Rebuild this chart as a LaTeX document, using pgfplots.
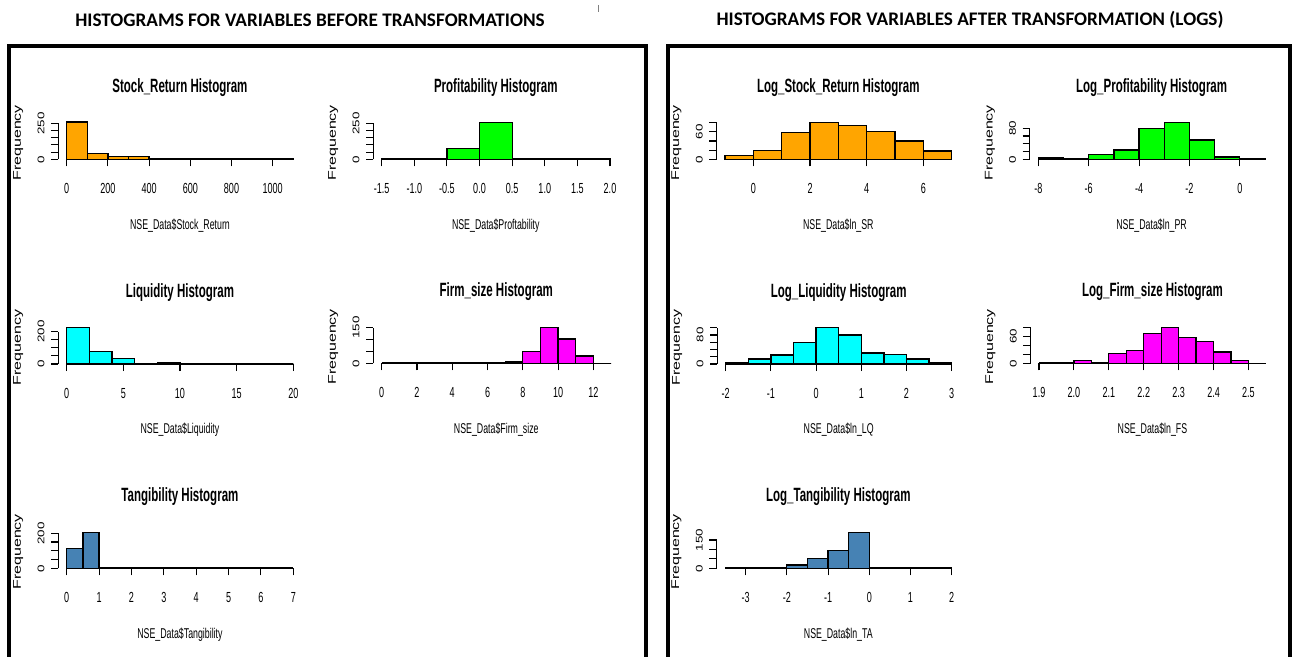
\documentclass[border=0pt]{standalone}
\usepackage{pgfplots}
\pgfplotsset{compat=1.18}
\usepackage{fontspec}
\setmainfont{Liberation Sans}
\newfontfamily\hdr{Carlito}
\newfontfamily\nar{Liberation Sans}[FakeStretch=0.62]
\newfontfamily\narT{Liberation Sans}[FakeStretch=0.6]
\definecolor{rorange}{RGB}{255,165,0}
\definecolor{rgreen}{RGB}{0,255,0}
\definecolor{rcyan}{RGB}{0,255,255}
\definecolor{rmagenta}{RGB}{255,0,255}
\definecolor{rsteel}{RGB}{70,130,180}
\pgfplotsset{
 rh/.style={
  scale only axis, clip=false, anchor=south west,
  axis x line*=bottom, axis y line*=left,
  x axis line style={draw=none},
  y axis line style={-, line width=0.55pt, black},
  tick align=outside, major tick length=3.6pt,
  tick style={black, line width=0.55pt},
  ymin=0,
  xticklabel style={font=\nar\fontsize{7.3}{8}\selectfont, anchor=center, yshift=-11pt},
  yticklabel style={font=\fontsize{6.7}{7}\selectfont, xshift=-5pt, xscale=0.72, rotate=90, anchor=center},
  every axis title/.style={at={(0.5,0)}, anchor=center, xshift=2.1pt, yshift=35.8pt, font=\narT\bfseries\fontsize{9.6}{11}\selectfont},
  every axis x label/.style={at={(0.5,0)}, anchor=center, xshift=2.1pt, yshift=-33pt, font=\nar\fontsize{7.1}{8}\selectfont},
  every axis y label/.style={at={(0,0)}, anchor=center, xshift=-20pt, yshift=8.25pt, xscale=0.7, rotate=90, font=\fontsize{8}{9}\selectfont},
  ylabel={Frequency},
 },
 hb/.style={ybar interval, fill=#1, draw=black, line width=0.65pt},
 base/.style={black, line width=1.1pt, no marks},
}
\begin{document}
\begin{tikzpicture}
\path[use as bounding box] (0,0) rectangle (650pt,328.5pt);
% panel frames
\draw[line width=1.6pt] (4.5pt,-2pt) -- (4.5pt,305.5pt) -- (323pt,305.5pt) -- (323pt,-2pt);
\draw[line width=1.6pt] (334pt,-2pt) -- (334pt,305.5pt) -- (645pt,305.5pt) -- (645pt,-2pt);
\draw[line width=0.5pt, gray] (299pt,326pt) -- (299pt,322.5pt);
\node[font=\hdr\bfseries\fontsize{9.6}{11}\selectfont] at (155pt,318.5pt) {HISTOGRAMS FOR VARIABLES BEFORE TRANSFORMATIONS};
\node[font=\hdr\bfseries\fontsize{9.6}{11}\selectfont] at (485pt,318.5pt) {HISTOGRAMS FOR VARIABLES AFTER TRANSFORMATION (LOGS)};

% A Stock_Return
\begin{axis}[rh, at={(29.1pt,248.85pt)}, width=117.55pt, height=18pt,
  xmin=-41.3, xmax=1100, ymax=250,
  xtick={0,200,400,600,800,1000}, xticklabels={0,200,400,600,800,1000},
  ytick={0,50,100,150,200,250}, yticklabels={0,,,,,250},
  title={Stock\_Return Histogram}, xlabel={NSE\_Data\$Stock\_Return}]
\addplot[base] coordinates {(0,0) (1100,0)};
\addplot[hb=rorange] coordinates {(0,258) (100,42) (200,18) (300,20) (400,4) (500,3) (600,0) (700,3) (800,2) (900,3) (1000,2) (1100,0)};
\end{axis}

% B Profitability
\begin{axis}[rh, at={(186.6pt,248.85pt)}, width=118.4pt, height=18pt,
  xmin=-1.63, xmax=2.0, ymax=250,
  xtick={-1.5,-1,-0.5,0,0.5,1,1.5,2}, xticklabels={-1.5,-1.0,-0.5,0.0,0.5,1.0,1.5,2.0},
  ytick={0,50,100,150,200,250}, yticklabels={0,,,,,250},
  title={Profitability Histogram}, xlabel={NSE\_Data\$Proftability}]
\addplot[base] coordinates {(-1.5,0) (2.0,0)};
\addplot[hb=rgreen] coordinates {(-1.5,2) (-1.0,2) (-0.5,76) (0,257) (0.5,0) (1.0,0) (1.5,2) (2.0,0)};
\end{axis}

% C Liquidity
\begin{axis}[rh, at={(29.1pt,146.5pt)}, width=117.55pt, height=16.15pt,
  xmin=-0.75, xmax=20, ymax=200,
  xtick={0,5,10,15,20}, xticklabels={0,5,10,15,20},
  ytick={0,50,100,150,200}, yticklabels={0,,,,200},
  title={Liquidity Histogram}, xlabel={NSE\_Data\$Liquidity}]
\addplot[base] coordinates {(0,0) (20,0)};
\addplot[hb=rcyan] coordinates {(0,225) (2,76) (4,33) (6,1) (8,10) (10,0) (12,0) (14,0) (16,0) (18,0) (20,0)};
\end{axis}

% D Firm_size
\begin{axis}[rh, at={(186.6pt,146.85pt)}, width=118.9pt, height=17.85pt,
  xmin=-0.48, xmax=13, ymax=150,
  xtick={0,2,4,6,8,10,12}, xticklabels={0,2,4,6,8,10,12},
  ytick={0,50,100,150}, yticklabels={0,,,150},
  title={Firm\_size Histogram}, xlabel={NSE\_Data\$Firm\_size}]
\addplot[base] coordinates {(0,0) (12,0)};
\addplot[hb=rmagenta] coordinates {(0,0) (1,0) (2,0) (3,0) (4,0) (5,0) (6,0) (7,5) (8,49) (9,150) (10,102) (11,31) (12,0) (13,0)};
\end{axis}

% E Tangibility
\begin{axis}[rh, at={(29.1pt,44.35pt)}, width=117.55pt, height=17.5pt,
  xmin=-0.263, xmax=7, ymax=200,
  xtick={0,1,2,3,4,5,6,7}, xticklabels={0,1,2,3,4,5,6,7},
  ytick={0,50,100,150,200}, yticklabels={0,,,,200},
  title={Tangibility Histogram}, xlabel={NSE\_Data\$Tangibility}]
\addplot[base] coordinates {(0,0) (7,0)};
\addplot[hb=rsteel] coordinates {(0,114) (0.5,206) (1,0) (1.5,0) (2,0) (2.5,0) (3,0) (3.5,0) (4,0) (4.5,0) (5,0) (5.5,0) (6,0) (6.5,0) (7,0)};
\end{axis}

% F Log_Stock_Return
\begin{axis}[rh, at={(358.25pt,248.85pt)}, width=117.6pt, height=18.3pt,
  xmin=-1.3, xmax=7, ymax=80,
  xtick={0,2,4,6}, xticklabels={0,2,4,6},
  ytick={0,20,40,60,80}, yticklabels={0,,,60,},
  title={Log\_Stock\_Return Histogram}, xlabel={NSE\_Data\$ln\_SR}]
\addplot[base] coordinates {(-1,0) (7,0)};
\addplot[hb=rorange] coordinates {(-1,8) (0,19) (1,59) (2,80) (3,74) (4,61) (5,40) (6,18) (7,0)};
\end{axis}

% G Log_Profitability
\begin{axis}[rh, at={(514.9pt,248.85pt)}, width=117.6pt, height=15.5pt,
  xmin=-8.337, xmax=1, ymax=80,
  xtick={-8,-6,-4,-2,0}, xticklabels={-8,-6,-4,-2,0},
  ytick={0,20,40,60,80}, yticklabels={0,,,,80},
  title={Log\_Profitability Histogram}, xlabel={NSE\_Data\$ln\_PR}]
\addplot[base] coordinates {(-8,0) (1,0)};
\addplot[hb=rgreen] coordinates {(-8,3) (-7,0) (-6,13) (-5,24) (-4,80) (-3,95) (-2,50) (-1,6) (0,2) (1,0)};
\end{axis}

% H Log_Liquidity
\begin{axis}[rh, at={(358.6pt,146.5pt)}, width=117.25pt, height=18.15pt,
  xmin=-2.188, xmax=3, ymax=100,
  xtick={-2,-1,0,1,2,3}, xticklabels={-2,-1,0,1,2,3},
  ytick={0,20,40,60,80,100}, yticklabels={0,,,,80,},
  title={Log\_Liquidity Histogram}, xlabel={NSE\_Data\$ln\_LQ}]
\addplot[base] coordinates {(-2,0) (3,0)};
\addplot[hb=rcyan] coordinates {(-2,3) (-1.5,14) (-1,25) (-0.5,59) (0,100) (0.5,80) (1,30) (1.5,26) (2,14) (2.5,3) (3,0)};
\end{axis}

% I Log_Firm_size
\begin{axis}[rh, at={(515.25pt,146.85pt)}, width=117.7pt, height=17.85pt,
  xmin=1.8756, xmax=2.55, ymax=80,
  xtick={1.9,2.0,2.1,2.2,2.3,2.4,2.5}, xticklabels={1.9,2.0,2.1,2.2,2.3,2.4,2.5},
  ytick={0,20,40,60,80}, yticklabels={0,,,60,},
  title={Log\_Firm\_size Histogram}, xlabel={NSE\_Data\$ln\_FS}]
\addplot[base] coordinates {(1.9,0) (2.5,0)};
\addplot[hb=rmagenta] coordinates {(1.9,0) (1.95,2) (2.0,7) (2.05,0) (2.1,22) (2.15,29) (2.2,67) (2.25,81) (2.3,58) (2.35,49) (2.4,25) (2.45,7) (2.5,0) (2.55,0)};
\end{axis}

% J Log_Tangibility
\begin{axis}[rh, at={(358.25pt,44.35pt)}, width=117.6pt, height=14.15pt,
  xmin=-3.706, xmax=2, ymax=150,
  xtick={-3,-2,-1,0,1,2}, xticklabels={-3,-2,-1,0,1,2},
  ytick={0,50,100,150}, yticklabels={0,,,150},
  title={Log\_Tangibility Histogram}, xlabel={NSE\_Data\$ln\_TA}]
\addplot[base] coordinates {(-3.5,0) (2,0)};
\addplot[hb=rsteel] coordinates {(-3.5,0) (-3,0) (-2.5,3) (-2,18) (-1.5,53) (-1,93) (-0.5,190) (0,0) (0.5,0) (1,0) (1.5,0) (2,0)};
\end{axis}
\end{tikzpicture}
\end{document}
